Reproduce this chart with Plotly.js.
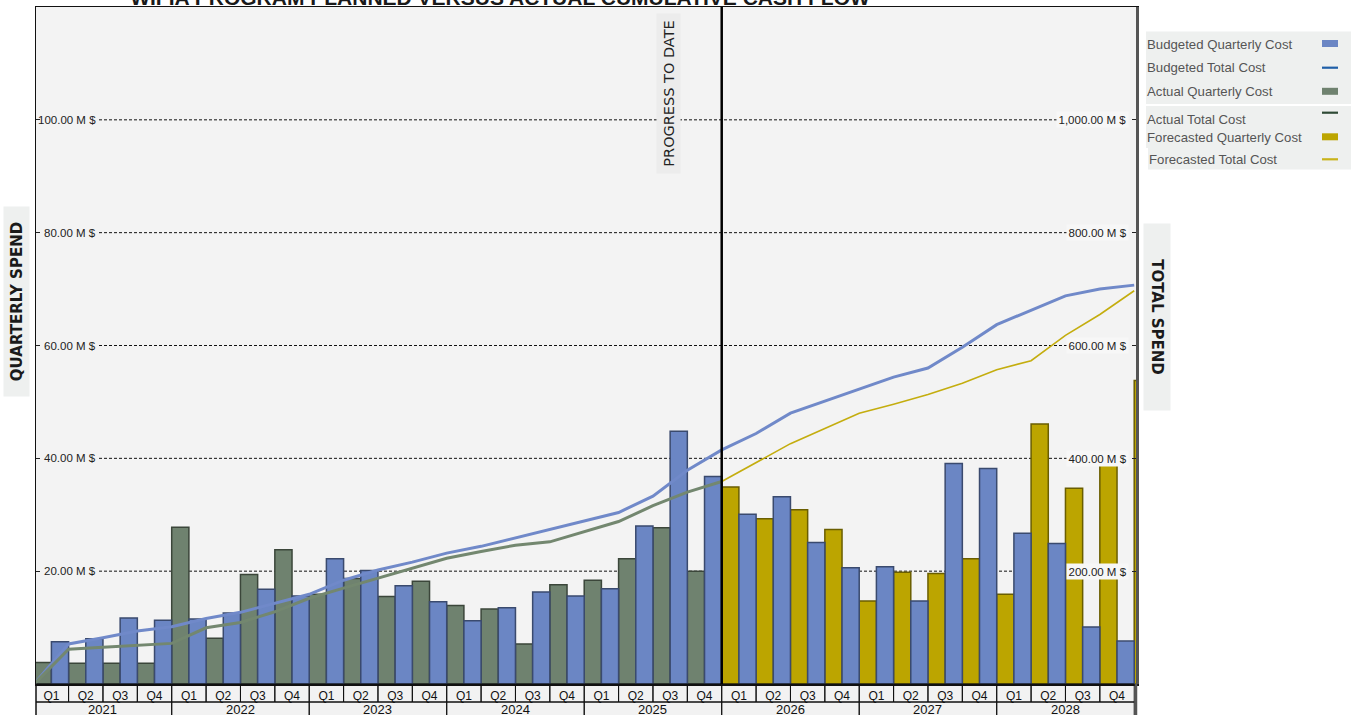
<!DOCTYPE html>
<html><head><meta charset="utf-8">
<script src="https://cdn.plot.ly/plotly-3.0.1.min.js"></script>
<style>html,body{margin:0;padding:0;background:#fff}#chart{width:1351px;height:715px}</style>
</head><body><div id="chart"></div>
<script>
// ---------------- DATA ----------------
const years = ['2021','2022','2023','2024','2025','2026','2027','2028'];
const quarterLabels = ['Q1','Q2','Q3','Q4'];
// Quarterly costs (M $), one value per quarter starting 2021 Q1
const budgetQuarterly = [7.5, 8.0, 11.7, 11.3, 11.5, 12.6, 16.8, 15.6, 22.2, 20.1, 17.4, 14.6, 11.2, 13.5, 16.3, 15.6,
                         16.9, 28.0, 44.8, 36.8, 30.1, 33.2, 25.1, 20.6, 20.8, 14.7, 39.1, 38.2, 26.7, 24.9, 10.1, 7.6];
const actualQuarterly = [3.8, 3.7, 3.7, 3.7, 27.8, 8.1, 19.4, 23.8, 15.9, 18.7, 15.5, 18.2, 13.9, 13.3, 7.1, 17.6,
                         18.4, 22.2, 27.7, 20.0];
// forecast starts 2026 Q1 (runs into 2029 Q1)
const forecastQuarterly = [34.9, 29.3, 30.9, 27.4, 14.7, 19.8, 19.6, 22.2, 15.9, 46.1, 34.7, 41.1, 53.8];
// Cumulative totals (M $) at quarter boundaries: start of 2021 Q1, end of 2021 Q1, ...
const budgetTotal = [0, 71, 82, 94, 101.5, 116, 127, 143, 159, 184, 202, 216, 232, 244, 259, 274, 289, 304, 333, 379,
                     415, 444, 480, 501, 522, 544, 560, 597, 637, 663, 688, 700, 707];
const actualTotal = [0, 61.5, 65, 68.5, 72, 99.6, 109, 128, 152, 170, 188, 205, 223, 235, 246, 252, 270, 288, 316, 340, 359];
const forecastTotal = [359, 393, 426, 453, 480, 496, 513, 533, 557, 573, 618, 655, 697];
const leftTickVals = [20, 40, 60, 80, 100];
const leftTickText = ['20.00 M $', '40.00 M $', '60.00 M $', '80.00 M $', '100.00 M $'];
const rightTickVals = [200, 400, 600, 800, 1000];
const rightTickText = ['200.00 M $', '400.00 M $', '600.00 M $', '800.00 M $', '1,000.00 M $'];
const seriesNames = ['Budgeted Quarterly Cost', 'Budgeted Total Cost', 'Actual Quarterly Cost',
                     'Actual Total Cost', 'Forecasted Quarterly Cost', 'Forecasted Total Cost'];

// ---------------- BUILD ----------------
const nQ = years.length * quarterLabels.length;
const qTickVals = [], qTickText = [];
years.forEach((y, yi) => quarterLabels.forEach((q, qi) => { qTickVals.push(yi*4+qi); qTickText.push(q); }));
const fStart = actualQuarterly.length;

const C = {blue:'#6b86c4', blueEdge:'#3a4a6e', green:'#6f826f', greenEdge:'#3b463a',
           yellow:'#bca500', yellowEdge:'#6a5e00', blueLine:'#7089c9', greenLine:'#73876f', yellowLine:'#c4ad0e'};

const traces = [
  {type:'bar', name:seriesNames[2], x:actualQuarterly.map((v,i)=>i), y:actualQuarterly, width:0.5, offset:-0.5,
   marker:{color:C.green, line:{color:C.greenEdge, width:1.5}}},
  {type:'bar', name:seriesNames[4], x:forecastQuarterly.map((v,i)=>i+fStart), y:forecastQuarterly, width:0.5, offset:-0.5,
   marker:{color:C.yellow, line:{color:C.yellowEdge, width:1.5}}},
  {type:'bar', name:seriesNames[0], x:budgetQuarterly.map((v,i)=>i), y:budgetQuarterly, width:0.5, offset:0,
   marker:{color:C.blue, line:{color:C.blueEdge, width:1.5}}},
  {type:'scatter', mode:'lines', name:seriesNames[1], x:budgetTotal.map((v,k)=>k-0.5), y:budgetTotal, yaxis:'y2',
   line:{color:C.blueLine, width:3}},
  {type:'scatter', mode:'lines', name:seriesNames[3], x:actualTotal.map((v,k)=>k-0.5), y:actualTotal, yaxis:'y2',
   line:{color:C.greenLine, width:3}},
  {type:'scatter', mode:'lines', name:seriesNames[5], x:forecastTotal.map((v,k)=>k+fStart-0.5), y:forecastTotal, yaxis:'y2',
   line:{color:C.yellowLine, width:1.6}}
];

// layout helpers (pixel -> paper)
const PL = 36, PT = 7, PW = 1100, PH = 677;
const px = x => (x - PL) / PW;
const py = y => (PT + PH - y) / PH;

const shapes = [];
const annotations = [];
// plot background (so that gridlines can sit above it and below bars)
shapes.push({type:'rect', xref:'paper', yref:'paper', x0:0, x1:1, y0:0, y1:1, fillcolor:'#f3f3f3', line:{width:0}, layer:'below'});
// table background
shapes.push({type:'rect', xref:'paper', yref:'paper', x0:0, x1:px(1135), y0:py(715), y1:0, fillcolor:'#f2f2f2', line:{width:0}, layer:'below'});
// gridlines
leftTickVals.forEach(v => shapes.push({type:'line', xref:'paper', yref:'y', x0:px(99), x1:px(1127), y0:v, y1:v,
  line:{color:'#111', width:1, dash:'3px,2px'}, layer:'below'}));
// legend boxes
shapes.push({type:'rect', xref:'paper', yref:'paper', x0:px(1146), x1:px(1351), y0:py(104), y1:py(31.5), fillcolor:'#eef0ef', line:{width:0}, layer:'below'});
shapes.push({type:'rect', xref:'paper', yref:'paper', x0:px(1146), x1:px(1351), y0:py(148), y1:py(106), fillcolor:'#eef0ef', line:{width:0}, layer:'below'});
shapes.push({type:'rect', xref:'paper', yref:'paper', x0:px(1148), x1:px(1351), y0:py(169.5), y1:py(148), fillcolor:'#eef0ef', line:{width:0}, layer:'below'});
// legend entries
const legendRows = [
  {name:seriesNames[0], kind:'bar', color:C.blue, ty:44, sy:43.5},
  {name:seriesNames[1], kind:'line', color:'#1f5fa8', ty:68, sy:67.7},
  {name:seriesNames[2], kind:'bar', color:C.green, ty:91.5, sy:91.3},
  {name:seriesNames[3], kind:'line', color:'#2e4a35', ty:119, sy:112.7},
  {name:seriesNames[4], kind:'bar', color:C.yellow, ty:137.5, sy:136.8},
  {name:seriesNames[5], kind:'line', color:'#c9b31a', ty:159, sy:159.3}
];
legendRows.forEach((r, i) => {
  annotations.push({xref:'paper', yref:'paper', x:px(i===5?1147:1145), y:py(r.ty), xanchor:'left', yanchor:'middle',
    text:r.name, showarrow:false, font:{family:'Liberation Sans, sans-serif', size:13.2, color:'#555'}});
  if (r.kind === 'bar') shapes.push({type:'rect', xref:'paper', yref:'paper', x0:px(1322), x1:px(1338),
    y0:py(r.sy+3.5), y1:py(r.sy-3.5), fillcolor:r.color, line:{width:0}, layer:'below'});
  else shapes.push({type:'line', xref:'paper', yref:'paper', x0:px(1322), x1:px(1338), y0:py(r.sy), y1:py(r.sy),
    line:{color:r.color, width:2.2}, layer:'below'});
});
// quarter / year table
qTickVals.forEach(i => shapes.push({type:'rect', xref:'x', yref:'paper', x0:i-0.5, x1:i+0.5, y0:0, y1:py(702),
  line:{color:'#111', width:1}, layer:'above'}));
years.forEach((y, yi) => {
  shapes.push({type:'rect', xref:'x', yref:'paper', x0:yi*4-0.5, x1:yi*4+3.5, y0:py(702), y1:py(740),
    line:{color:'#111', width:1}, layer:'above'});
  annotations.push({xref:'x', yref:'paper', x:yi*4+1.5, y:py(709.5), xanchor:'center', yanchor:'middle', text:y,
    showarrow:false, font:{family:'Liberation Sans', size:13, color:'#111'}});
});
shapes.push({type:'line', xref:'paper', yref:'paper', x0:0, x1:0, y0:py(715), y1:0, line:{color:'#111', width:1.5}, layer:'above'});
shapes.push({type:'line', xref:'paper', yref:'paper', x0:1, x1:1, y0:py(715), y1:0, line:{color:'#555', width:2.5}, layer:'above'});
// progress-to-date line
shapes.push({type:'line', xref:'x', yref:'paper', x0:fStart-0.5, x1:fStart-0.5, y0:0, y1:1, line:{color:'#000', width:2.5}, layer:'above'});

// tick labels (right-aligned, with background)
leftTickVals.forEach((v, i) => annotations.push({xref:'paper', yref:'y', x:px(98), y:v, xanchor:'right', yanchor:'middle',
  text:leftTickText[i], showarrow:false, font:{family:'Liberation Sans', size:11.5, color:'#222'}}));
rightTickVals.forEach((v, i) => annotations.push({xref:'paper', yref:'y2', x:px(1129), y:v, xanchor:'right', yanchor:'middle',
  text:rightTickText[i], showarrow:false, bgcolor:'#f7f7f7', borderpad:1.5, font:{family:'Liberation Sans', size:11.5, color:'#222'}}));

// axis titles and progress label
annotations.push({xref:'paper', yref:'paper', x:px(16.5), y:py(301.5), xanchor:'center', yanchor:'middle', textangle:-90,
  width:187, height:23, bgcolor:'#eef0ef', text:'QUARTERLY SPEND', showarrow:false,
  font:{family:'DejaVu Sans', size:15, weight:700, color:'#1a1a1a'}});
annotations.push({xref:'paper', yref:'paper', x:px(1157), y:py(317), xanchor:'center', yanchor:'middle', textangle:90,
  width:184, height:24, bgcolor:'#eef0ef', text:'TOTAL SPEND', showarrow:false,
  font:{family:'DejaVu Sans', size:15, weight:700, color:'#1a1a1a'}});
annotations.push({xref:'paper', yref:'paper', x:px(668), y:py(94), xanchor:'center', yanchor:'middle', textangle:-90,
  width:157, height:21, bgcolor:'#ececec', text:'PROGRESS TO DATE', showarrow:false,
  font:{family:'DejaVu Sans', size:14.5, color:'#222'}});

const layout = {
  width:1351, height:715,
  margin:{l:PL, r:1351-PL-PW, t:PT, b:715-PT-PH, pad:0},
  paper_bgcolor:'#ffffff', plot_bgcolor:'rgba(0,0,0,0)',
  showlegend:false, barmode:'overlay', hovermode:false,
  title:{text:'WIFIA PROGRAM PLANNED VERSUS ACTUAL CUMULATIVE CASH FLOW',
    font:{family:'Liberation Sans', size:21, weight:700, color:'#1a1a1a'},
    xref:'paper', x:px(500), xanchor:'center', yref:'container', y:1-5/715, yanchor:'bottom'},
  xaxis:{range:[-0.448, nQ-0.448], tickvals:qTickVals, ticktext:qTickText, ticks:'', showgrid:false, zeroline:false,
    showline:true, linecolor:'#111', linewidth:1.5, mirror:true, automargin:false,
    tickfont:{family:'Liberation Sans', size:12, color:'#111'}},
  yaxis:{range:[0,120], tickvals:leftTickVals, showticklabels:false, ticks:'inside', ticklen:4, tickcolor:'#222',
    showgrid:false, zeroline:false, showline:true, linecolor:'#111', linewidth:1.5, automargin:false},
  yaxis2:{overlaying:'y', side:'right', range:[0,1200], tickvals:rightTickVals, showticklabels:false, ticks:'inside',
    ticklen:4, tickcolor:'#222', showgrid:false, zeroline:false, showline:true, linecolor:'#555', linewidth:2.5, automargin:false},
  shapes:shapes, annotations:annotations
};
Plotly.newPlot('chart', traces, layout, {staticPlot:true, displayModeBar:false});
</script></body></html>
